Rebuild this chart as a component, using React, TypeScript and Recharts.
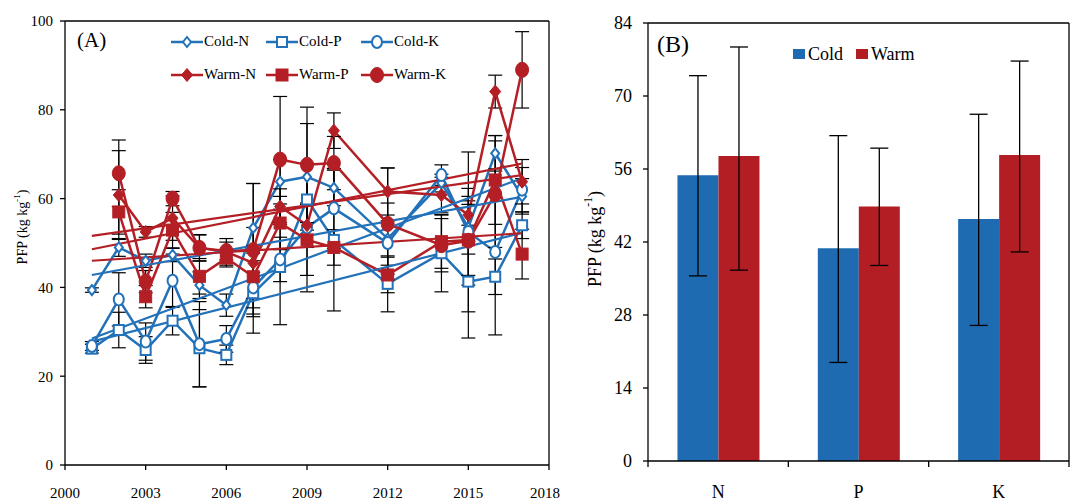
import React from 'react';
import { LineChart, Line, XAxis, YAxis, ErrorBar, BarChart, Bar } from 'recharts';

// panel A: yearly PFP by season and nutrient
const YEARS = [2001, 2002, 2003, 2004, 2005, 2006, 2007, 2008, 2009, 2010, 2012, 2014, 2015, 2016, 2017];

const COLD_N = [39.4, 49.0, 46.0, 47.3, 40.5, 36.0, 53.4, 63.8, 64.9, 62.4, 51.0, 63.5, 53.5, 70.2, 60.5];
const COLD_P = [26.2, 30.4, 25.9, 32.5, 26.3, 24.8, 38.7, 44.6, 59.8, 50.7, 40.8, 47.7, 41.3, 42.4, 54.0];
const COLD_K = [26.8, 37.3, 27.8, 41.5, 27.2, 28.4, 40.0, 46.3, 53.5, 57.8, 50.0, 65.3, 52.5, 48.0, 62.0];
const WARM_N = [null, 60.8, 52.5, 55.6, 48.9, 48.0, 45.5, 58.2, 54.0, 75.3, 61.6, 60.8, 56.3, 84.1, 63.8];
const WARM_P = [null, 57.0, 37.9, 52.9, 42.5, 46.6, 42.4, 54.5, 50.7, 49.0, 42.8, 50.3, 50.7, 64.2, 47.5];
const WARM_K = [null, 65.7, 41.3, 60.0, 48.9, 48.2, 48.4, 68.8, 67.6, 68.0, 54.3, 49.5, 50.5, 61.0, 89.0];

const COLD_N_ERR = [0.5, 2, 1.5, 1.5, 3, 2.5, 10, 5, 12, 4, 8, 2, 6, 4, 4];
const COLD_P_ERR = [1, 4, 3, 3.2, 8.7, 2.2, 9, 13, 8, 16, 6.3, 8.7, 12.7, 4, 3];
const COLD_K_ERR = [1, 6, 4.2, 6, 9.6, 3, 6, 5, 14.5, 9, 5, 2.3, 18, 18.7, 5];
const WARM_N_ERR = [null, 10, 1.2, 5, 3, 3, 8, 4, 5, 4, 5.3, 4, 6, 3.7, 5];
const WARM_P_ERR = [null, 5, 2.5, 4, 4, 2, 7, 6, 8, 4, 4, 6, 8, 10, 5.6];
const WARM_K_ERR = [null, 7.5, 2.5, 1.6, 2.9, 2, 15, 14.2, 13, 6, 12.6, 6, 10, 12, 8.6];

// linear trend lines, read at first and last year
const TREND_YEARS = [2001, 2017];
const COLD_N_TREND = [42.8, 60.4];
const COLD_P_TREND = [27.8, 52.3];
const COLD_K_TREND = [28.5, 64.6];
const WARM_N_TREND = [48.6, 67.9];
const WARM_P_TREND = [46.0, 52.2];
const WARM_K_TREND = [51.6, 65.3];

const X_TICKS = [2000, 2003, 2006, 2009, 2012, 2015, 2018];
const Y_TICKS_A = [0, 20, 40, 60, 80, 100];

// panel B: mean PFP
const NUTRIENTS = ['N', 'P', 'K'];
const COLD_MEAN = [54.8, 40.8, 46.4];
const WARM_MEAN = [58.5, 48.8, 58.7];
const COLD_LOW = [19.3, 21.9, 20.4];
const COLD_HIGH = [19.1, 21.6, 20.1];
const WARM_LOW = [21.9, 11.3, 18.6];
const WARM_HIGH = [20.9, 11.2, 18.0];
const Y_TICKS_B = [0, 14, 28, 42, 56, 70, 84];

const BLUE = '#2271b9';
const RED = '#b41f25';
const BAR_BLUE = '#1f6bb2';
const BAR_RED = '#b31e24';
const FONT = '"Liberation Serif", "Times New Roman", serif';

type Kind = 'diamond' | 'square' | 'circle';

const SERIES = [
  { key: 'coldN', name: 'Cold-N', values: COLD_N, errs: COLD_N_ERR, trend: COLD_N_TREND, color: BLUE, kind: 'diamond' as Kind, filled: false },
  { key: 'coldP', name: 'Cold-P', values: COLD_P, errs: COLD_P_ERR, trend: COLD_P_TREND, color: BLUE, kind: 'square' as Kind, filled: false },
  { key: 'coldK', name: 'Cold-K', values: COLD_K, errs: COLD_K_ERR, trend: COLD_K_TREND, color: BLUE, kind: 'circle' as Kind, filled: false },
  { key: 'warmN', name: 'Warm-N', values: WARM_N, errs: WARM_N_ERR, trend: WARM_N_TREND, color: RED, kind: 'diamond' as Kind, filled: true },
  { key: 'warmP', name: 'Warm-P', values: WARM_P, errs: WARM_P_ERR, trend: WARM_P_TREND, color: RED, kind: 'square' as Kind, filled: true },
  { key: 'warmK', name: 'Warm-K', values: WARM_K, errs: WARM_K_ERR, trend: WARM_K_TREND, color: RED, kind: 'circle' as Kind, filled: true },
];

const lineRows = YEARS.map((year, i) => {
  const row: Record<string, number | null> = { year };
  SERIES.forEach((s) => {
    row[s.key] = s.values[i];
    row[s.key + 'Err'] = s.errs[i];
    const t = TREND_YEARS.indexOf(year);
    row[s.key + 'Trend'] = t >= 0 ? s.trend[t] : null;
  });
  return row;
});

const barRows = NUTRIENTS.map((n, i) => ({
  n,
  cold: COLD_MEAN[i],
  warm: WARM_MEAN[i],
  coldErr: [COLD_LOW[i], COLD_HIGH[i]],
  warmErr: [WARM_LOW[i], WARM_HIGH[i]],
}));

function Marker({ kind, filled, color, cx, cy }: { kind: Kind; filled: boolean; color: string; cx: number; cy: number }) {
  const fill = filled ? color : '#fff';
  const sw = filled ? 1 : 2;
  if (kind === 'diamond') {
    const w = filled ? 5.5 : 4;
    const h = filled ? 6.5 : 5;
    return <polygon points={`${cx},${cy - h} ${cx + w},${cy} ${cx},${cy + h} ${cx - w},${cy}`} fill={fill} stroke={color} strokeWidth={sw} />;
  }
  if (kind === 'square') {
    const a = filled ? 6 : 5;
    return <rect x={cx - a} y={cy - a} width={a * 2} height={a * 2} fill={fill} stroke={color} strokeWidth={sw} />;
  }
  return <ellipse cx={cx} cy={cy} rx={filled ? 6.5 : 5} ry={filled ? 7.5 : 6} fill={fill} stroke={color} strokeWidth={sw} />;
}

function makeDot(s: (typeof SERIES)[number]) {
  return (p: any) => {
    const k = `${s.key}-${p.index}`;
    if (p.cy == null || p.value == null) return <g key={k} />;
    return (
      <g key={k}>
        <Marker kind={s.kind} filled={s.filled} color={s.color} cx={p.cx} cy={p.cy} />
      </g>
    );
  };
}

// category label plus tick marks on the category boundaries
function NutrientTick(p: any) {
  const half = p.payload?.offset || 70;
  const last = p.index === NUTRIENTS.length - 1;
  return (
    <g>
      <line x1={p.x - half} y1={p.y} x2={p.x - half} y2={p.y + 6} stroke="#000" strokeWidth={1.3} />
      {last && <line x1={p.x + half} y1={p.y} x2={p.x + half} y2={p.y + 6} stroke="#000" strokeWidth={1.3} />}
      <text x={p.x} y={p.y + 37} textAnchor="middle" fontFamily={FONT} fontSize={18} fill="#000">
        {p.payload.value}
      </text>
    </g>
  );
}

function LegendA() {
  const rows = [SERIES.slice(0, 3), SERIES.slice(3)];
  return (
    <div style={{ position: 'absolute', left: 171, top: 25, fontFamily: FONT, fontSize: 15, color: '#000' }}>
      {rows.map((r, ri) => (
        <div key={ri} style={{ display: 'flex', height: 33, alignItems: 'center' }}>
          {r.map((s) => (
            <div key={s.key} style={{ display: 'flex', alignItems: 'center', width: 95 }}>
              <svg width={32} height={16}>
                <line x1={0} y1={8} x2={32} y2={8} stroke={s.color} strokeWidth={2.5} />
                <Marker kind={s.kind} filled={s.filled} color={s.color} cx={16} cy={8} />
              </svg>
              <span style={{ marginLeft: 1 }}>{s.name}</span>
            </div>
          ))}
        </div>
      ))}
    </div>
  );
}

function LegendB() {
  const items = [
    { name: 'Cold', color: BAR_BLUE },
    { name: 'Warm', color: BAR_RED },
  ];
  return (
    <div style={{ position: 'absolute', left: 793, top: 42, display: 'flex', fontFamily: FONT, fontSize: 18, color: '#000', alignItems: 'center', height: 24 }}>
      {items.map((it) => (
        <div key={it.name} style={{ display: 'flex', alignItems: 'center', marginRight: 13 }}>
          <span style={{ width: 12, height: 10, background: it.color, display: 'inline-block', marginRight: 3 }} />
          <span>{it.name}</span>
        </div>
      ))}
    </div>
  );
}

function yLabel(x: number, y: number, size: number) {
  return () => (
    <text x={x} y={y} transform={`rotate(-90 ${x} ${y})`} textAnchor="middle" dominantBaseline="central" fontFamily={FONT} fontSize={size} fill="#000">
      PFP (kg kg<tspan baselineShift="super" fontSize={size * 0.65}>-1</tspan>)
    </text>
  );
}

const tickA = { fontFamily: FONT, fontSize: 15, fill: '#000' };
const tickB = { fontFamily: FONT, fontSize: 18, fill: '#000' };
const axisStroke = { stroke: '#000', strokeWidth: 1.3 };

export default function App() {
  return (
    <div style={{ position: 'absolute', left: 0, top: 0, width: 1073, height: 504, background: '#fff' }}>
      <LineChart width={560} height={504} data={lineRows} margin={{ top: 20, right: 10, bottom: 0, left: 20 }}>
        <XAxis xAxisId="top" orientation="top" type="number" domain={[2000, 2018]} ticks={X_TICKS} height={1} tick={false} tickLine={false} axisLine={axisStroke} />
        <XAxis dataKey="year" type="number" domain={[2000, 2018]} ticks={X_TICKS} allowDataOverflow height={39} tickSize={5} tickMargin={17} tick={tickA} tickLine={axisStroke} axisLine={axisStroke} />
        <YAxis domain={[0, 100]} ticks={Y_TICKS_A} width={45} tickSize={5} tickMargin={7} tick={tickA} tickLine={axisStroke} axisLine={axisStroke} label={{ content: yLabel(22, 227, 14) }} />
        <YAxis yAxisId="right" orientation="right" domain={[0, 100]} width={1} tick={false} tickLine={false} axisLine={axisStroke} />
        {SERIES.map((s) => (
          <Line key={s.key} dataKey={s.key} name={s.name} stroke={s.color} strokeWidth={2.5} isAnimationActive={false} dot={makeDot(s)} activeDot={false}>
            <ErrorBar dataKey={s.key + 'Err'} width={7} stroke="#000" strokeWidth={1.2} />
          </Line>
        ))}
        {SERIES.map((s) => (
          <Line key={s.key + 'Trend'} dataKey={s.key + 'Trend'} stroke={s.color} strokeWidth={2.2} dot={false} activeDot={false} connectNulls legendType="none" isAnimationActive={false} />
        ))}
      </LineChart>
      <LegendA />
      <div style={{ position: 'absolute', left: 77, top: 28, fontFamily: FONT, fontSize: 21 }}>(A)</div>

      <div style={{ position: 'absolute', left: 570, top: 0 }}>
        <BarChart width={503} height={504} data={barRows} margin={{ top: 22, right: 3, bottom: 0, left: 0 }} barCategoryGap="21%" barGap={0}>
          <XAxis xAxisId="top" orientation="top" dataKey="n" height={1} tick={false} tickLine={false} axisLine={axisStroke} />
          <XAxis dataKey="n" height={43} tickLine={false} tickSize={0} tickMargin={0} axisLine={axisStroke} tick={(p: any) => <NutrientTick {...p} />} />
          <YAxis domain={[0, 84]} ticks={Y_TICKS_B} width={78} tickSize={5} tickMargin={11} tick={tickB} tickLine={axisStroke} axisLine={axisStroke} label={{ content: yLabel(25, 239, 18) }} />
          <YAxis yAxisId="right" orientation="right" domain={[0, 84]} width={1} tick={false} tickLine={false} axisLine={axisStroke} />
          <Bar dataKey="cold" name="Cold" fill={BAR_BLUE} isAnimationActive={false}>
            <ErrorBar dataKey="coldErr" width={9} stroke="#000" strokeWidth={1.3} />
          </Bar>
          <Bar dataKey="warm" name="Warm" fill={BAR_RED} isAnimationActive={false}>
            <ErrorBar dataKey="warmErr" width={9} stroke="#000" strokeWidth={1.3} />
          </Bar>
        </BarChart>
      </div>
      <LegendB />
      <div style={{ position: 'absolute', left: 657, top: 31, fontFamily: FONT, fontSize: 24 }}>(B)</div>
    </div>
  );
}
